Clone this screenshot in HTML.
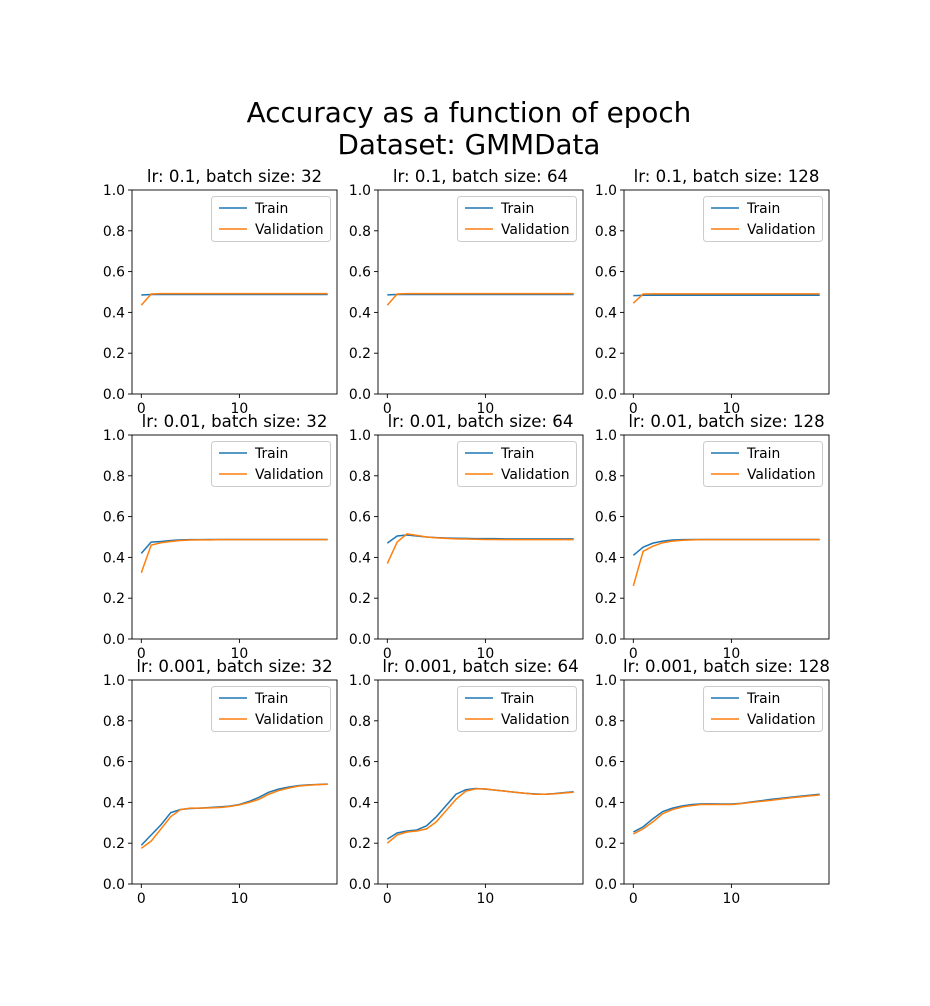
<!DOCTYPE html>
<html><head><meta charset="utf-8"><style>
body{margin:0;background:#fff;}
svg{display:block;font-family:"DejaVu Sans","Liberation Sans",sans-serif;}
</style></head><body>
<svg id="fig" width="930" height="1006" xmlns="http://www.w3.org/2000/svg">
<rect width="930" height="1006" fill="#fff"/>
<text x="469" y="122" font-size="27.8" text-anchor="middle" fill="#000">Accuracy as a function of epoch</text>
<text x="469" y="154" font-size="27.8" text-anchor="middle" fill="#000">Dataset: GMMData</text>
</svg>
<script>
const titles=["lr: 0.1, batch size: 32","lr: 0.1, batch size: 64","lr: 0.1, batch size: 128","lr: 0.01, batch size: 32","lr: 0.01, batch size: 64","lr: 0.01, batch size: 128","lr: 0.001, batch size: 32","lr: 0.001, batch size: 64","lr: 0.001, batch size: 128"];
const epochs=[0,1,2,3,4,5,6,7,8,9,10,11,12,13,14,15,16,17,18,19];
const yTicks=[0,0.2,0.4,0.6,0.8,1.0];
const yTickLabels=["0.0","0.2","0.4","0.6","0.8","1.0"];
const xTicks=[0,10];
const xTickLabels=["0","10"];
const train1=[0.485,0.488,0.488,0.488,0.488,0.488,0.488,0.488,0.488,0.488,0.488,0.488,0.488,0.488,0.488,0.488,0.488,0.488,0.488,0.488];
const val1=[0.435,0.49,0.492,0.492,0.492,0.492,0.492,0.492,0.492,0.492,0.492,0.492,0.492,0.492,0.492,0.492,0.492,0.492,0.492,0.492];
const train2=[0.486,0.488,0.488,0.488,0.488,0.488,0.488,0.488,0.488,0.488,0.488,0.488,0.488,0.488,0.488,0.488,0.488,0.488,0.488,0.488];
const val2=[0.435,0.49,0.492,0.492,0.492,0.492,0.492,0.492,0.492,0.492,0.492,0.492,0.492,0.492,0.492,0.492,0.492,0.492,0.492,0.492];
const train3=[0.482,0.484,0.484,0.484,0.484,0.484,0.484,0.484,0.484,0.484,0.484,0.484,0.484,0.484,0.484,0.484,0.484,0.484,0.484,0.484];
const val3=[0.445,0.49,0.491,0.491,0.491,0.491,0.491,0.491,0.491,0.491,0.491,0.491,0.491,0.491,0.491,0.491,0.491,0.491,0.491,0.491];
const train4=[0.42,0.475,0.478,0.483,0.486,0.487,0.487,0.488,0.488,0.488,0.488,0.488,0.488,0.488,0.488,0.488,0.488,0.488,0.488,0.488];
const val4=[0.325,0.46,0.472,0.478,0.483,0.485,0.486,0.486,0.487,0.487,0.487,0.487,0.487,0.487,0.487,0.487,0.487,0.487,0.487,0.487];
const train5=[0.47,0.505,0.51,0.505,0.5,0.497,0.495,0.494,0.493,0.492,0.492,0.492,0.491,0.491,0.491,0.491,0.491,0.491,0.491,0.491];
const val5=[0.37,0.475,0.515,0.508,0.5,0.496,0.493,0.491,0.49,0.489,0.488,0.488,0.487,0.487,0.487,0.487,0.487,0.487,0.487,0.487];
const train6=[0.41,0.45,0.47,0.48,0.485,0.487,0.488,0.488,0.488,0.488,0.488,0.488,0.488,0.488,0.488,0.488,0.488,0.488,0.488,0.488];
const val6=[0.26,0.43,0.455,0.472,0.48,0.484,0.486,0.487,0.487,0.487,0.487,0.487,0.487,0.487,0.487,0.487,0.487,0.487,0.487,0.487];
const train7=[0.19,0.24,0.29,0.35,0.365,0.37,0.372,0.375,0.378,0.382,0.39,0.405,0.425,0.45,0.465,0.475,0.482,0.486,0.488,0.49];
const val7=[0.175,0.21,0.27,0.33,0.365,0.372,0.372,0.373,0.375,0.38,0.388,0.4,0.415,0.44,0.458,0.47,0.48,0.484,0.487,0.489];
const train8=[0.22,0.25,0.26,0.265,0.285,0.33,0.385,0.44,0.462,0.468,0.465,0.46,0.455,0.45,0.445,0.442,0.44,0.443,0.448,0.452];
const val8=[0.2,0.24,0.255,0.26,0.27,0.305,0.36,0.415,0.455,0.466,0.466,0.46,0.455,0.45,0.445,0.44,0.44,0.442,0.446,0.45];
const train9=[0.255,0.28,0.32,0.355,0.372,0.383,0.39,0.393,0.393,0.392,0.392,0.395,0.402,0.408,0.415,0.42,0.425,0.43,0.435,0.44];
const val9=[0.245,0.27,0.305,0.345,0.365,0.378,0.385,0.39,0.39,0.39,0.39,0.394,0.4,0.405,0.41,0.416,0.422,0.427,0.432,0.436];
const trains=[train1,train2,train3,train4,train5,train6,train7,train8,train9];
const vals=[val1,val2,val3,val4,val5,val6,val7,val8,val9];

const NS="http://www.w3.org/2000/svg";
const svg=document.getElementById('fig');
function mk(tag,attrs,parent){const e=document.createElementNS(NS,tag);for(const k in attrs)e.setAttribute(k,attrs[k]);(parent||svg).appendChild(e);return e;}
const lefts=[132,378,624], tops=[190,435,680], W=205, H=204;
for(let i=0;i<9;i++){
  const L=lefts[i%3], T=tops[Math.floor(i/3)];
  const g=mk('g',{});
  
  
  const xs=v=>L+(v+0.95)/20.9*W;
  const ys=v=>T+H-v*H;
  const ttl=mk('text',{x:L+W/2,y:T-8,'font-size':16.6,'text-anchor':'middle'},g);ttl.textContent=titles[i];
  
  
  yTicks.forEach((t,k)=>{
    mk('line',{x1:L-4,x2:L,y1:ys(t),y2:ys(t),stroke:'#000','stroke-width':0.9},g);
    const tx=mk('text',{x:L-7,y:ys(t)+5,'font-size':13.9,'text-anchor':'end'},g);tx.textContent=yTickLabels[k];
    
    
  });
  xTicks.forEach((t,k)=>{
    mk('line',{x1:xs(t),x2:xs(t),y1:T+H,y2:T+H+4,stroke:'#000','stroke-width':0.9},g);
    const tx=mk('text',{x:xs(t),y:T+H+19,'font-size':13.9,'text-anchor':'middle'},g);tx.textContent=xTickLabels[k];
    
    
  });
  const series=[[trains[i],'#1f77b4','train-line'],[vals[i],'#ff7f0e','validation-line']];
  series.forEach(s=>{
    const p=mk('polyline',{points:s[0].map((v,k)=>xs(epochs[k])+','+ys(v)).join(' '),fill:'none',stroke:s[1],'stroke-width':1.5},g);
    
    
  });
  mk('rect',{x:L,y:T,width:W,height:H,fill:'none',stroke:'#000','stroke-width':0.9},g);
  const lg=mk('g',{},g);
  
  
  mk('rect',{x:L+79.5,y:T+6.5,width:119,height:45,rx:3,fill:'#fff',stroke:'#ccc','stroke-width':1},lg);
  [['Train','#1f77b4',T+18],['Validation','#ff7f0e',T+39]].forEach(e=>{
    const le=mk('g',{},lg);
    
    
    mk('line',{x1:L+87,x2:L+115,y1:e[2],y2:e[2],stroke:e[1],'stroke-width':1.5},le);
    const t=mk('text',{x:L+123,y:e[2]+5,'font-size':13.9},le);t.textContent=e[0];
  });
}
</script>
</body></html>
